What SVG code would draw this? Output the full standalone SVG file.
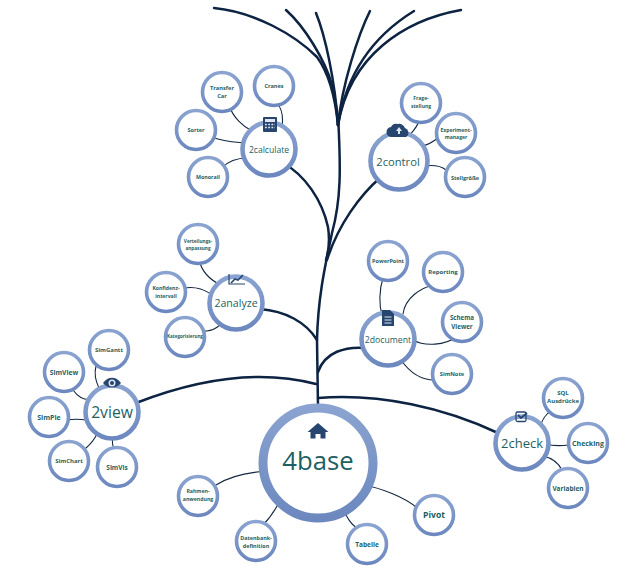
<svg xmlns="http://www.w3.org/2000/svg" width="636" height="574" viewBox="0 0 636 574">
<style>
.s{fill:#fff;stroke:url(#r);stroke-width:3.6}
.m{fill:#fff;stroke:url(#r);stroke-width:4.6}
.t{font-family:"Open Sans","DejaVu Sans",sans-serif;fill:#1e5f63;text-anchor:middle}
.b6{font-weight:700}
.c{fill:none;stroke:#12263f;stroke-width:1.1;stroke-linecap:round}
.b{fill:none;stroke:#0d2342;stroke-width:2.5;stroke-linecap:round}
.i{fill:#26456f}
.o{fill:none;stroke:#26456f;stroke-width:1.2}
</style>
<defs>
<linearGradient id="r" x1="0" y1="0" x2="0" y2="1"><stop offset="0" stop-color="#8aa3d0"/><stop offset="1" stop-color="#6c88bf"/></linearGradient>
</defs>
<rect width="636" height="574" fill="#fff"/>
<g id="trunk-and-branches">
<path class="b" d="M214 8C255 12 295 35 317 57C328 72 335 95 338 125"/>
<path class="b" d="M286 10C305 27 325 60 332 85C335 97 337 110 338 125"/>
<path class="b" d="M316 13C325 35 335 80 338 125"/>
<path class="b" d="M370 11C358 35 342 85 338 125"/>
<path class="b" d="M414 11C375 35 347 70 338 125"/>
<path class="b" d="M461 10C405 20 350 55 338 125"/>
<path class="b" stroke-width="3" d="M338 115C341 170 341 200 332 233C326 262 318 295 317 340L318 407"/>
<path class="b" d="M283 163C305 175 322 200 328 227C330 240 329 250 326 260"/>
<path class="b" d="M381 177C360 195 338 225 327 260"/>
<path class="b" d="M260 309C285 311 306 322 317 340"/>
<path class="b" d="M367 348C345 346 325 352 318 372"/>
<path class="b" d="M136 403C190 382 255 368 316 384"/>
<path class="b" d="M318 398C380 393 445 408 498 433"/>
</g>
<g id="node-2calculate-group">
<path class="c" d="M229 105C233 118 244 127 252 131M277 103C283 110 283 120 282 127M212 137C225 142 235 142 245 143M222 168C228 161 238 158 248 158"/>
<g id="n-2calculate"><circle class="m" cx="269" cy="149" r="26.500"/><text class="t" x="269" y="152.500" font-size="8.600">2calculate</text>
<rect class="i" x="263" y="117" width="14" height="15" rx="1"/><rect x="265" y="119" width="10" height="3" fill="#dfe6f2"/><path stroke="#dfe6f2" stroke-width="1.500" stroke-dasharray="1.800 1.400" d="M265 124.500h10M265 127.500h10"/></g>
<g id="n-transfer"><circle class="s" cx="222" cy="92" r="19.500"/><text class="t b6" font-size="5.700" x="222" y="90">Transfer</text><text class="t b6" font-size="5.700" x="222" y="98">Car</text></g>
<g id="n-cranes"><circle class="s" cx="274" cy="86" r="19.500"/><text class="t b6" font-size="5.600" x="274" y="88">Cranes</text></g>
<g id="n-sorter"><circle class="s" cx="196" cy="130" r="19.500"/><text class="t b6" font-size="5.500" x="196" y="132">Sorter</text></g>
<g id="n-monorail"><circle class="s" cx="208" cy="177" r="19.500"/><text class="t b6" font-size="5.300" x="208" y="179">Monorail</text></g>
</g>
<g id="node-2control-group">
<path class="c" d="M419 121C417 128 411 133 408 137M439 137C433 142 428 145 422 146M446 170C440 165 432 165 424 166"/>
<g id="n-2control"><circle class="m" cx="399" cy="161" r="28.500"/><text class="t" x="398" y="165.500" font-size="11.200">2control</text>
<path class="i" d="M392 137a5 5 0 0 1-1-10a6 6 0 0 1 7-3a6 6 0 0 1 7 4a5 5 0 0 1 1 9z"/><path fill="#dfe6f2" d="M399 127l3 4h-2v3h-2v-3h-2z"/></g>
<g id="n-frage"><circle class="s" cx="421" cy="103" r="19.500"/><text class="t b6" font-size="5" x="421" y="100">Frage-</text><text class="t b6" font-size="5" x="421" y="108">stellung</text></g>
<g id="n-experiment"><circle class="s" cx="456" cy="133" r="19.500"/><text class="t b6" font-size="5.100" x="456" y="132">Experiment-</text><text class="t b6" font-size="5.100" x="456" y="139">manager</text></g>
<g id="n-stell"><circle class="s" cx="465" cy="177" r="19.500"/><text class="t b6" font-size="5.500" x="465" y="180">Stellgröße</text></g>
</g>
<g id="node-2analyze-group">
<path class="c" d="M199 260C202 272 210 280 221 285M184 288C197 286 205 290 214 296M200 331C212 332 220 327 224 319"/>
<g id="n-2analyze"><circle class="m" cx="236" cy="303" r="26.500"/><text class="t" x="236" y="307" font-size="10.600">2analyze</text>
<path class="o" d="M229 274v10h16"/><path fill="none" stroke="#26456f" stroke-width="1.600" d="M231 283l4-4 3 1 5-5"/></g>
<g id="n-vert"><circle class="s" cx="198" cy="244" r="19.500"/><text class="t b6" font-size="4.700" x="198" y="243">Verteilungs-</text><text class="t b6" font-size="4.700" x="198" y="250">anpassung</text></g>
<g id="n-konf"><circle class="s" cx="166" cy="292" r="19.500"/><text class="t b6" font-size="5.100" x="166" y="290">Konfidenz-</text><text class="t b6" font-size="5.100" x="166" y="298">intervall</text></g>
<g id="n-kat"><circle class="s" cx="185" cy="337" r="19.500"/><text class="t b6" font-size="4.500" x="185" y="338">Kategorisierung</text></g>
</g>
<g id="node-2view-group">
<path class="c" d="M96 366C94 374 96 382 99 388M73 390C78 397 84 400 88 399M66 420C74 419 80 419 86 420M86 448C92 443 95 438 97 434M114 449C112 444 112 441 113 438"/>
<g id="n-2view"><circle class="m" cx="112" cy="412" r="26.500"/><text class="t" x="112" y="418" font-size="15.700">2view</text>
<path class="i" d="M103 383c5-7 13-7 18 0c-5 6-13 6-18 0z"/><circle cx="112" cy="383" r="3.500" fill="#dfe6f2"/><circle cx="112" cy="383" r="2" fill="#26456f"/></g>
<g id="n-gantt"><circle class="s" cx="109" cy="350" r="19.500"/><text class="t b6" font-size="6" x="109" y="352">SimGantt</text></g>
<g id="n-view"><circle class="s" cx="64" cy="372" r="19.500"/><text class="t b6" font-size="6.700" x="64" y="374.500">SimView</text></g>
<g id="n-pie"><circle class="s" cx="49" cy="417" r="19.500"/><text class="t b6" font-size="7" x="49" y="419.500">SimPie</text></g>
<g id="n-chart"><circle class="s" cx="69" cy="461" r="19.500"/><text class="t b6" font-size="6" x="69" y="463">SimChart</text></g>
<g id="n-vis"><circle class="s" cx="117" cy="467" r="19.500"/><text class="t b6" font-size="6.500" x="117" y="470">SimVis</text></g>
</g>
<g id="node-2document-group">
<path class="c" d="M383 278C379 290 379 305 382 315M436 284C420 288 405 298 403 314M457 337C445 345 425 347 413 340M437 380C420 381 408 370 401 360"/>
<g id="n-2document"><circle class="m" cx="388" cy="339" r="26.500"/><text class="t" x="388" y="342.500" font-size="8.700">2document</text>
<path class="i" d="M382 310h8l4 4v12h-12z"/><path stroke="#dfe6f2" stroke-width="1.100" d="M384.500 317h7M384.500 320h7M384.500 323h7"/></g>
<g id="n-pp"><circle class="s" cx="388" cy="261" r="19.500"/><text class="t b6" font-size="5.500" x="388" y="263">PowerPoint</text></g>
<g id="n-rep"><circle class="s" cx="443" cy="272" r="19.500"/><text class="t b6" font-size="6" x="443" y="274">Reporting</text></g>
<g id="n-schema"><circle class="s" cx="462" cy="322" r="19.500"/><text class="t b6" font-size="6.200" x="462" y="320">Schema</text><text class="t b6" font-size="6.200" x="462" y="328.500">Viewer</text></g>
<g id="n-note"><circle class="s" cx="452" cy="374" r="19.500"/><text class="t b6" font-size="5.700" x="452" y="376">SimNote</text></g>
</g>
<g id="node-2check-group">
<path class="c" d="M551 411C546 414 542 420 541 425M569 445C560 446 552 446 546 444M562 470C558 462 552 458 543 456"/>
<g id="n-2check"><circle class="m" cx="522" cy="443" r="26.500"/><text class="t" x="522" y="447.500" font-size="13">2check</text>
<rect x="516" y="412" width="10" height="9.500" rx="1.500" fill="none" stroke="#26456f" stroke-width="1.300"/><path fill="none" stroke="#26456f" stroke-width="1.800" d="M518 415l3 3 6-5"/></g>
<g id="n-sql"><circle class="s" cx="563" cy="398" r="19.500"/><text class="t b6" font-size="6" x="563" y="395">SQL</text><text class="t b6" font-size="6" x="563" y="403">Ausdrücke</text></g>
<g id="n-checking"><circle class="s" cx="588" cy="443" r="19.500"/><text class="t b6" font-size="7" x="588" y="445.500">Checking</text></g>
<g id="n-var"><circle class="s" cx="568" cy="488" r="19.500"/><text class="t b6" font-size="6.500" x="568" y="490.500">Variablen</text></g>
</g>
<g id="node-4base-group">
<path class="c" d="M216 485C230 476 250 472 269 471M282 497C276 509 268 520 263 525M344 508C345 516 352 526 359 529M364 485C380 488 405 497 417 508"/>
<g id="n-4base"><circle cx="318" cy="463" r="55" fill="#fff" stroke="url(#r)" stroke-width="9"/><text class="t" x="318" y="470" font-size="25.700">4base</text>
<path class="i" d="M318 423l-10.500 9h3v6.500h5v-4.500h5v4.500h5V432h3z"/></g>
<g id="n-rahmen"><circle class="s" cx="198" cy="496" r="19.500"/><text class="t b6" font-size="5.200" x="198" y="493">Rahmen-</text><text class="t b6" font-size="5.200" x="198" y="500.500">anwendung</text></g>
<g id="n-daten"><circle class="s" cx="256" cy="541" r="19.500"/><text class="t b6" font-size="5.400" x="256" y="539.500">Datenbank-</text><text class="t b6" font-size="5.400" x="256" y="547.500">definition</text></g>
<g id="n-tabelle"><circle class="s" cx="367" cy="544" r="19.500"/><text class="t b6" font-size="6.500" x="367" y="546.500">Tabelle</text></g>
<g id="n-pivot"><circle class="s" cx="434" cy="515" r="19.500"/><text class="t b6" font-size="8.600" x="434" y="518">Pivot</text></g>
</g>
</svg>
